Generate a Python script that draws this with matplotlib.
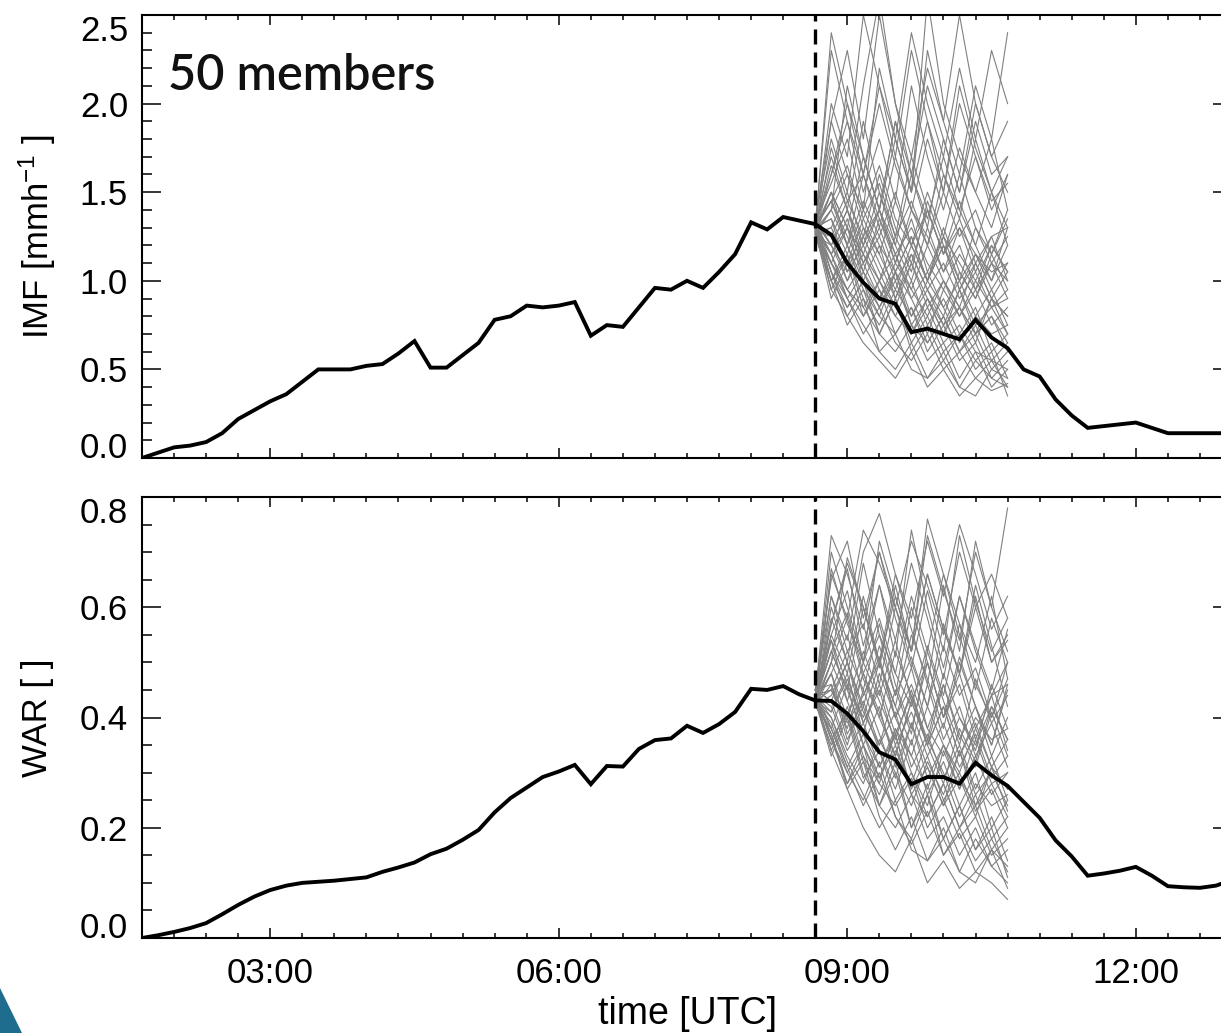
import numpy as np
import pandas as pd
import matplotlib
matplotlib.use("Agg")
import matplotlib.pyplot as plt
import matplotlib.dates as mdates
from matplotlib.ticker import FixedLocator, MultipleLocator
from matplotlib.patches import Polygon

# ---------------- data ----------------
obs_start, obs_end = "2000-01-01 01:40", "2000-01-01 13:00"
ens_start, ens_end = "2000-01-01 08:40", "2000-01-01 10:40"
forecast_time = "2000-01-01 08:40"

imf_obs = [0.00, 0.03, 0.06, 0.07, 0.09, 0.14, 0.22, 0.27,
           0.32, 0.36, 0.43, 0.50, 0.50, 0.50,
           0.52, 0.53, 0.59, 0.66, 0.51, 0.51,
           0.58, 0.65, 0.78, 0.80, 0.86, 0.85,
           0.86, 0.88, 0.69, 0.75, 0.74, 0.85,
           0.96, 0.95, 1.00, 0.96, 1.05, 1.15,
           1.33, 1.29, 1.36, 1.34, 1.32, 1.26,
           1.10, 0.99, 0.90, 0.87, 0.71, 0.73,
           0.70, 0.67, 0.78, 0.68, 0.62, 0.50,
           0.46, 0.33, 0.24, 0.17, 0.18, 0.19,
           0.20, 0.17, 0.14, 0.14, 0.14, 0.14,
           0.14]

war_obs = [0.000, 0.005, 0.011, 0.018, 0.027, 0.043, 0.060, 0.075,
           0.087, 0.095, 0.100, 0.102, 0.104, 0.107,
           0.110, 0.120, 0.128, 0.137, 0.152, 0.162,
           0.178, 0.196, 0.228, 0.254, 0.273, 0.292,
           0.302, 0.314, 0.279, 0.312, 0.311, 0.343,
           0.359, 0.362, 0.385, 0.372, 0.388, 0.410,
           0.452, 0.450, 0.457, 0.442, 0.431, 0.430,
           0.407, 0.375, 0.337, 0.324, 0.279, 0.292,
           0.292, 0.280, 0.318, 0.295, 0.276, 0.247,
           0.218, 0.177, 0.148, 0.113, 0.117, 0.122,
           0.129, 0.113, 0.094, 0.092, 0.091, 0.095,
           0.105]

# 50 ensemble members, IMF in 1/100 mm/h (08:40 ... 10:40, 10-min steps)
imf_members = [
    [130,145,120,160,135,110,140,125,105,130,115,100,120],
    [128,110,95,85,100,80,70,85,65,75,60,55,50],
    [132,170,140,190,150,120,160,135,170,140,120,150,130],
    [125,100,120,95,80,105,90,70,95,80,100,85,90],
    [135,190,230,180,250,200,160,210,180,150,190,160,170],
    [130,115,90,75,60,70,50,45,60,40,55,45,40],
    [127,140,160,130,115,145,120,100,125,110,95,120,105],
    [133,120,105,130,110,90,115,95,80,105,90,110,100],
    [129,240,200,160,210,170,230,190,150,200,170,140,160],
    [131,105,85,100,70,90,65,80,60,70,55,65,45],
    [126,150,130,170,140,190,160,130,180,150,200,170,150],
    [134,125,100,115,95,80,100,75,90,70,85,60,70],
    [128,95,80,65,55,45,60,40,50,35,45,38,42],
    [132,160,200,170,140,180,150,230,190,160,210,180,240],
    [130,135,115,140,120,105,125,100,120,95,110,90,105],
    [127,110,130,100,120,90,110,85,100,80,95,75,85],
    [135,180,150,210,260,200,170,220,190,250,200,170,190],
    [129,100,75,90,60,50,65,45,55,40,35,50,45],
    [131,145,125,105,135,115,95,120,100,85,110,90,80],
    [126,120,140,115,100,125,105,145,120,100,130,110,125],
    [133,155,180,140,165,135,120,150,125,160,130,115,140],
    [128,90,110,80,95,70,85,65,80,60,75,55,65],
    [130,200,170,250,210,180,240,200,170,220,180,230,200],
    [132,115,95,110,90,105,80,95,75,85,70,80,60],
    [127,130,150,120,140,110,135,105,125,100,115,95,110],
    [134,105,90,70,85,65,55,70,50,60,45,55,40],
    [129,165,140,120,150,125,170,140,115,145,120,100,130],
    [131,125,110,135,115,95,120,100,130,105,90,115,95],
    [126,140,210,170,140,190,150,260,200,170,150,180,140],
    [133,110,95,80,100,85,70,90,75,95,70,80,65],
    [130,150,120,100,85,105,75,65,80,60,70,50,60],
    [128,125,145,125,160,130,110,140,115,130,105,125,100],
    [132,100,115,90,75,95,80,100,85,65,80,70,75],
    [127,175,145,160,130,170,140,120,160,135,180,150,120],
    [135,120,100,125,105,85,110,90,70,95,75,85,70],
    [129,140,120,145,125,150,120,140,115,135,110,125,130],
    [131,95,115,85,70,90,60,75,55,70,50,60,35],
    [126,190,160,140,220,180,150,190,160,140,170,145,155],
    [133,115,130,110,125,100,115,95,110,90,105,85,95],
    [130,135,105,120,100,115,90,105,85,100,80,95,75],
    [128,150,130,115,140,120,100,130,105,120,95,110,90],
    [132,105,80,95,70,60,75,55,65,45,60,40,50],
    [127,160,190,150,180,145,210,170,140,175,150,130,160],
    [134,120,140,110,130,105,125,100,120,95,115,105,110],
    [129,110,90,105,85,100,75,90,70,85,65,90,70],
    [131,230,190,160,200,165,140,180,150,210,175,150,170],
    [126,130,110,125,140,115,130,110,95,115,100,120,105],
    [133,100,85,100,80,70,85,60,75,55,65,45,55],
    [130,145,165,135,155,125,145,120,150,125,140,115,135],
    [128,115,135,105,90,110,95,80,100,85,70,90,80],
]

# 50 ensemble members, WAR in 1/100
war_members = [
    [43,52,45,60,50,42,55,47,38,50,42,35,45],
    [44,38,30,25,32,22,18,26,15,20,14,18,12],
    [42,60,50,68,55,48,62,52,66,55,45,58,50],
    [43,35,42,33,28,38,30,24,34,27,36,28,30],
    [45,65,72,58,70,60,52,66,56,48,62,50,55],
    [43,40,32,26,20,25,16,14,20,12,18,13,10],
    [42,50,58,47,40,52,44,36,48,40,34,46,38],
    [44,45,38,48,40,33,43,35,28,38,32,42,36],
    [43,70,60,50,64,54,68,58,47,62,52,44,50],
    [44,36,28,35,24,30,20,28,18,24,16,22,14],
    [42,55,48,62,50,66,56,46,64,52,72,60,52],
    [45,46,36,42,34,27,36,26,32,24,30,20,25],
    [43,34,27,20,15,12,18,10,14,9,12,10,7],
    [44,57,68,60,50,62,52,73,63,54,70,60,78],
    [43,48,40,50,43,36,45,35,42,33,39,31,36],
    [42,38,46,35,42,31,39,29,35,27,33,26,30],
    [45,62,54,70,77,66,58,72,62,75,66,56,62],
    [43,37,27,32,22,16,22,14,18,12,10,16,13],
    [44,52,45,37,48,40,33,42,35,30,38,31,27],
    [42,44,50,41,35,45,37,52,43,35,47,39,44],
    [44,55,63,50,58,48,42,53,44,57,46,40,50],
    [43,33,40,29,34,25,30,22,28,20,26,18,22],
    [43,66,58,74,68,60,72,64,55,70,60,66,58],
    [44,42,34,39,31,37,27,33,25,30,23,27,20],
    [42,48,55,44,51,40,49,38,46,36,42,33,40],
    [45,38,31,24,30,22,17,23,15,19,12,16,9],
    [43,58,50,42,53,44,60,50,40,51,42,35,46],
    [44,45,40,48,41,33,43,35,46,37,31,41,33],
    [42,50,69,60,49,64,52,76,66,57,50,62,47],
    [44,40,33,28,36,30,24,32,26,34,24,28,22],
    [43,54,43,35,29,37,26,22,28,20,24,16,20],
    [43,45,52,45,57,46,38,50,40,46,36,44,34],
    [44,36,41,32,26,34,28,36,30,22,28,24,26],
    [42,62,52,57,46,60,50,42,57,48,64,53,42],
    [45,43,35,45,37,29,39,31,24,34,26,30,24],
    [43,50,43,52,44,54,43,50,40,48,38,44,46],
    [44,34,41,30,24,32,20,26,18,24,16,20,11],
    [42,67,57,50,72,62,52,66,56,48,60,50,54],
    [44,41,47,39,45,35,41,33,39,31,37,29,33],
    [43,48,37,43,35,41,31,37,29,35,27,33,25],
    [43,54,46,40,50,42,35,46,36,42,33,39,31],
    [44,37,28,33,24,20,26,18,22,15,20,13,16],
    [42,57,67,53,64,51,74,60,49,62,53,45,56],
    [45,43,50,39,46,37,44,35,42,33,40,36,38],
    [43,39,31,37,29,35,26,31,24,29,22,31,23],
    [44,73,66,56,70,58,49,63,52,73,61,52,58],
    [42,46,39,44,50,40,46,38,33,40,35,42,36],
    [44,36,30,35,28,24,29,20,25,18,22,15,18],
    [43,52,59,48,55,44,51,42,53,44,49,40,47],
    [43,41,48,37,31,38,33,27,35,29,24,31,27],
]

imf_ticks = [0.0, 0.5, 1.0, 1.5, 2.0, 2.5]
war_ticks = [0.0, 0.2, 0.4, 0.6, 0.8]
member_label = "50 members"

# ---------------- plotting ----------------
plt.rcParams['font.family'] = ['Liberation Sans', 'DejaVu Sans']
plt.rcParams['mathtext.fontset'] = 'custom'
plt.rcParams['mathtext.rm'] = 'Liberation Sans'
plt.rcParams['mathtext.default'] = 'regular'

W, H = 1221, 1033
fig = plt.figure(figsize=(W / 100, H / 100), dpi=100)
fig.patch.set_facecolor('white')

def px_axes(x0, y0, x1, y1):
    return fig.add_axes([x0 / W, 1 - y1 / H, (x1 - x0) / W, (y1 - y0) / H])

ax1 = px_axes(142, 15, 1232, 458)
ax2 = px_axes(142, 497, 1232, 938)

t_obs = pd.date_range(obs_start, obs_end, freq="10min")
t_ens = pd.date_range(ens_start, ens_end, freq="10min")
t_fc = pd.Timestamp(forecast_time)

panels = [
    (ax1, imf_obs, imf_members, imf_ticks, 0.1, r'IMF [mmh$^{-1}$ ]'),
    (ax2, war_obs, war_members, war_ticks, 0.05, 'WAR [ ]'),
]

for ax, obs, members, ticks, minor, ylabel in panels:
    for m in members:
        ax.plot(t_ens, np.array(m) / 100.0, color='#808080', lw=0.8, zorder=2)
    ax.plot(t_obs, obs, color='black', lw=2.8, zorder=4, solid_joinstyle='miter')
    ax.axvline(t_fc, color='black', lw=2.4, linestyle=(0, (4.5, 2.4)), zorder=5)

    ax.set_xlim(pd.Timestamp(obs_start), pd.Timestamp(obs_end))
    ax.set_ylim(ticks[0], ticks[-1])
    ax.yaxis.set_major_locator(FixedLocator(ticks))
    ax.yaxis.set_minor_locator(MultipleLocator(minor))
    ax.set_yticklabels([f"{v:.1f}" for v in ticks])
    ax.xaxis.set_major_locator(mdates.HourLocator(byhour=[3, 6, 9, 12]))
    ax.xaxis.set_minor_locator(mdates.MinuteLocator(byminute=[0, 20, 40]))
    ax.xaxis.set_major_formatter(mdates.DateFormatter('%H:%M'))

    ax.tick_params(which='both', direction='in', top=True, right=True,
                   labelsize=25, width=1.1, colors='black')
    ax.tick_params(axis='y', which='major', length=14, pad=10)
    ax.tick_params(axis='y', which='minor', length=7)
    ax.tick_params(axis='x', which='major', length=7, pad=14)
    ax.tick_params(axis='x', which='minor', length=3.5)
    for s in ax.spines.values():
        s.set_linewidth(1.5)

    ax.set_ylabel(ylabel, fontsize=25, va='center')
    ax.yaxis.set_label_coords(-0.096, 0.5)

    yt = ax.yaxis.get_major_ticks()
    yt[0].label1.set_verticalalignment('baseline')
    yt[-1].label1.set_verticalalignment('top')

ax1.tick_params(axis='x', labelbottom=False)
ax2.set_xlabel('time [UTC]', fontsize=27, labelpad=4)

fig.text(168 / W, 1 - 90 / H, member_label, fontsize=35, family=['Lato', 'DejaVu Sans'],
         fontweight='semibold', va='baseline', ha='left', color='#111111')

# slide background remnant in the lower-left corner
fig.patches.append(Polygon([[0, 1 - 988 / H], [22 / W, 0], [0, 0]], closed=True,
                           transform=fig.transFigure, facecolor='#1f6d8e',
                           edgecolor='none', zorder=0))

fig.savefig('out.png', dpi=100, facecolor='white')
